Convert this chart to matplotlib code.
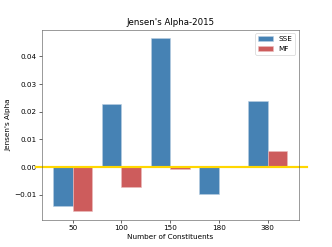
import matplotlib
matplotlib.use("Agg")
import matplotlib.pyplot as plt
import numpy as np

constituents = ["50", "100", "150", "180", "380"]
sse = [-0.0140, 0.0228, 0.0465, -0.0096, 0.0240]
mf = [-0.0159, -0.0073, -0.0006, 0.0001, 0.0059]

x = np.arange(len(constituents))
width = 0.4

fig = plt.figure(figsize=(332 / 52, 247 / 52), dpi=52)
ax = fig.add_subplot(111)
ax.bar(x - width / 2, sse, width, color="steelblue", edgecolor="#b8cde0",
       linewidth=0.8, label="SSE")
ax.bar(x + width / 2, mf, width, color="indianred", edgecolor="#ebbcbc",
       linewidth=0.8, label="MF")
ax.axhline(0, xmin=-0.02, xmax=1.03, color="gold", linewidth=3, clip_on=False)

ax.set_xticks(x)
ax.set_xticklabels(constituents)
ax.set_xlabel("Number of Constituents")
ax.set_ylabel("Jensen's Alpha")
ax.set_title("Jensen's Alpha-2015")
ax.legend(loc="upper right")
for s in ax.spines.values():
    s.set_color("#555555")

fig.savefig("out.png", dpi=52)
